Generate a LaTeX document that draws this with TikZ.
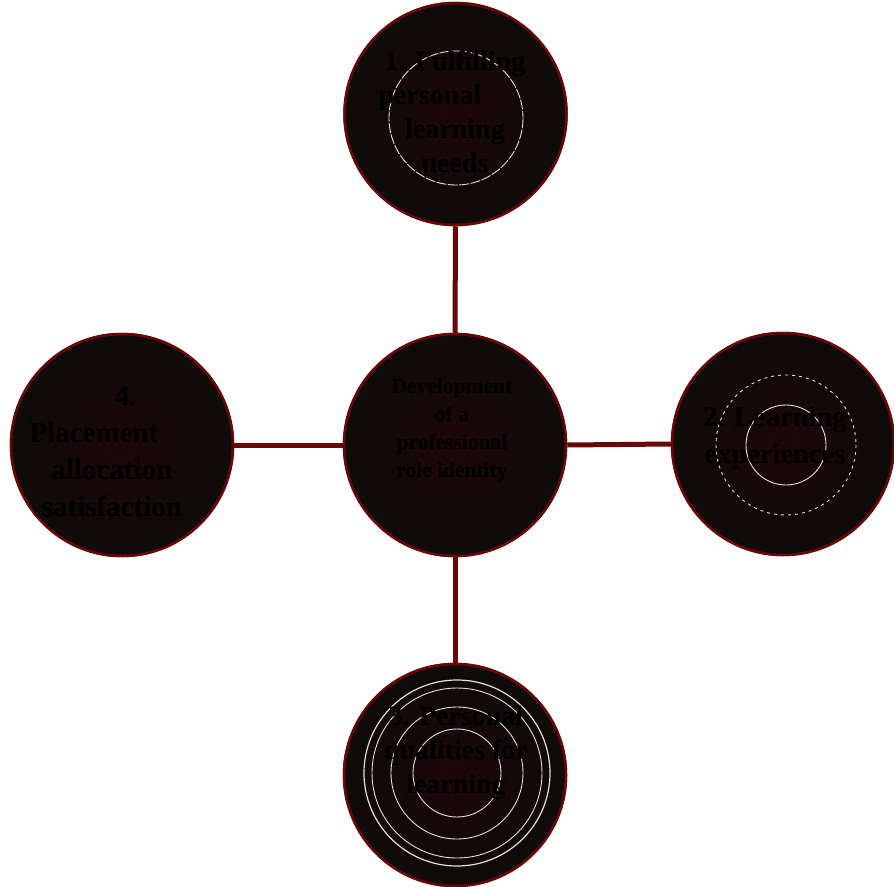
\documentclass[tikz,border=0pt]{standalone}
\usepackage{fontspec}
\setmainfont{Liberation Serif}
\definecolor{edgered}{RGB}{105,6,6}
\definecolor{fillin}{RGB}{30,6,10}
\definecolor{fillout}{RGB}{13,11,9}
\definecolor{ringc}{RGB}{225,225,225}
\begin{document}
\begin{tikzpicture}[x=1pt,y=-1pt,
  disc/.style={circle,minimum size=222pt,inner sep=0pt,draw=edgered,line width=2.5pt,
    shading=radial,inner color=fillin,outer color=fillout},
  lbl/.style={font=\bfseries\fontsize{28}{34}\selectfont,text=black,align=center},
  clbl/.style={font=\bfseries\fontsize{21.5}{28}\selectfont,text=black,align=center},
  link/.style={draw=edgered,line width=5pt},
  ring/.style={draw=ringc,line width=0.9pt}]
\useasboundingbox (0,0) rectangle (894,886);
\node[disc] (top) at (455.5,114) {};
\node[disc] (mid) at (455,445) {};
\node[disc] (right) at (783,444) {};
\node[disc] (left) at (122,445) {};
\node[disc] (bot) at (455,775) {};
\draw[link] (top.south) -- (mid.north);
\draw[link] (mid.east) -- (right.west);
\draw[link] (mid.west) -- (left.east);
\draw[link] (mid.south) -- (bot.north);
\foreach \n in {top,mid,right,left,bot}{\draw[draw=edgered,line width=2.5pt] (\n) circle (111);}
% white rings
\draw[ring,dash pattern=on 10pt off 1.5pt] (456,118) circle (67);
\draw[ring] (786,445) circle (40);
\draw[ring,dash pattern=on 3pt off 4pt] (786,445) circle (70);
\draw[ring,line width=1.2pt] (457,773) circle (93);
\draw[ring] (457,773) circle (85);
\draw[ring] (457,773) circle (66);
\draw[ring] (457,773) circle (44);
% labels
\node[lbl] (ttop) at (455,112) {1. Fulfilling\\personal\rule{50pt}{0pt}\\learning\\needs};
\node[clbl] (tmid) at (452,430) {Development\\of a\\professional\\role identity};
\node[lbl,font=\bfseries\fontsize{28.5}{37}\selectfont] (tright) at (775,438) {2. Learning\\experiences};
\node[lbl,font=\bfseries\fontsize{29}{37}\selectfont] (tleft) at (112,452) {\rule{28pt}{0pt}4.\\Placement\rule{36pt}{0pt}\\allocation\rule{0pt}{0pt}\\satisfaction};
\node[lbl] (tbot) at (456,753) {3. Personal\\qualities for\\learning};
\end{tikzpicture}
\end{document}
